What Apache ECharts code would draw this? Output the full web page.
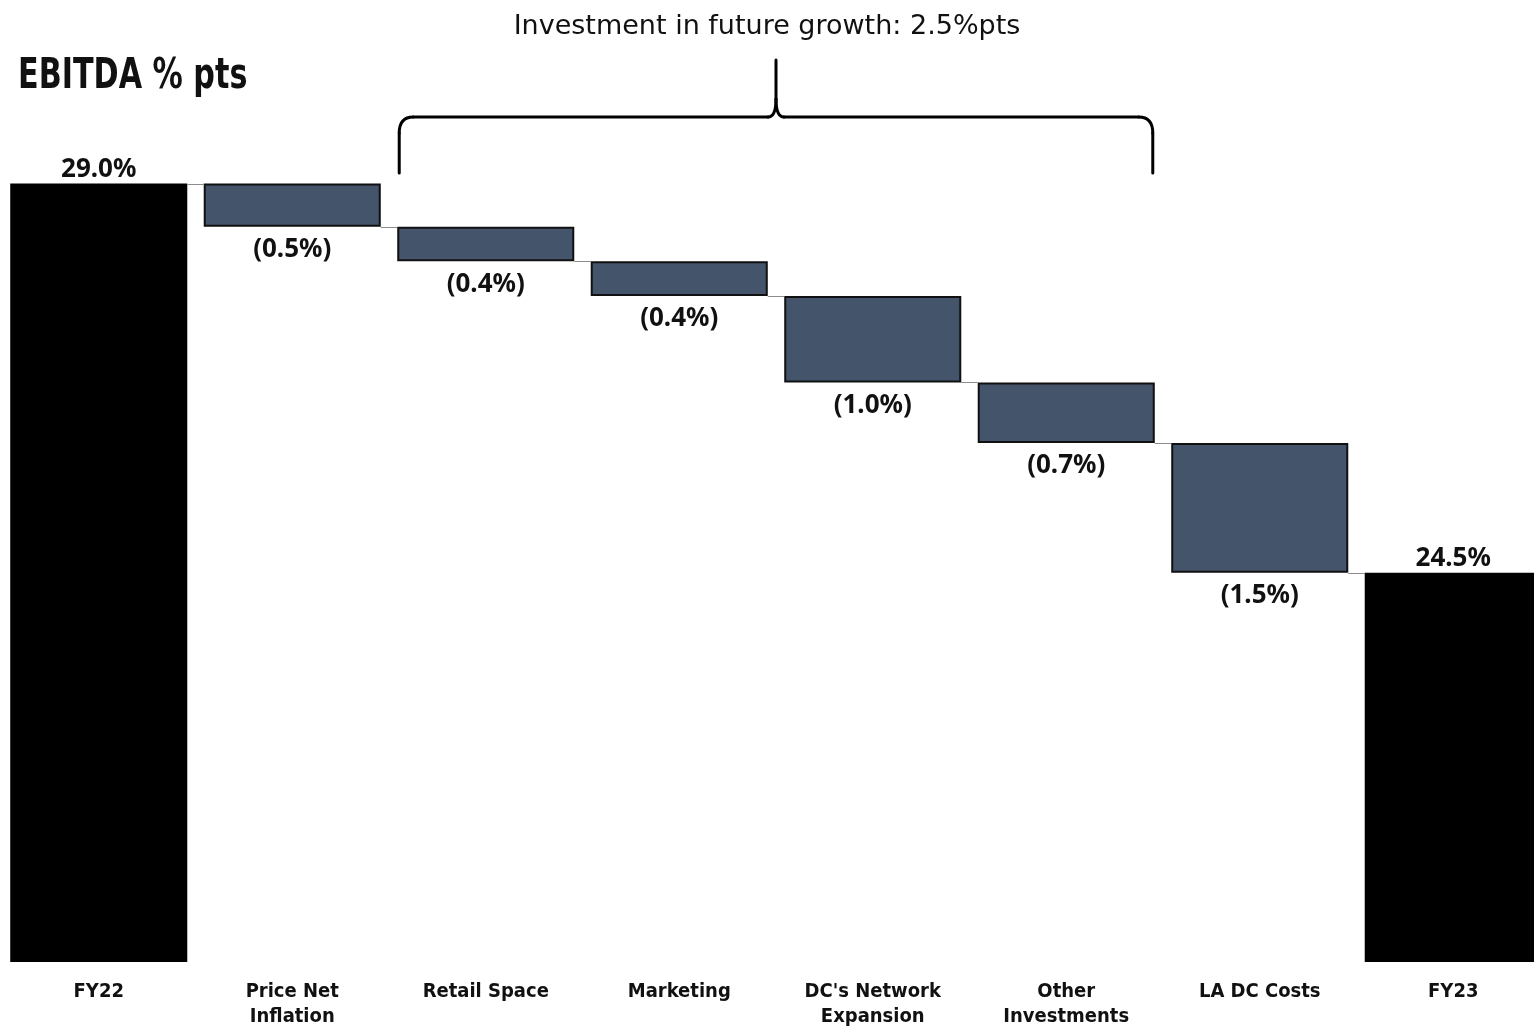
<!DOCTYPE html>
<html>
<head>
<meta charset="utf-8">
<title>EBITDA % pts bridge FY22 to FY23</title>
<script src="https://cdn.jsdelivr.net/npm/echarts@6/dist/echarts.min.js"></script>
<style>
  html, body { margin: 0; padding: 0; background: #ffffff; }
  #chart { width: 1534px; height: 1026px; }
</style>
</head>
<body>
<div id="chart"></div>
<script>
// Bridge categories (first and last are totals)
const categories = ['FY22', 'Price Net\nInflation', 'Retail Space', 'Marketing',
  "DC's Network\nExpansion", 'Other\nInvestments', 'LA DC Costs', 'FY23'];
// Opening and closing EBITDA margin (%)
const openingMargin = 29.0;
const closingMargin = 24.5;
// Movements between the two years (% pts)
const movements = [-0.5, -0.4, -0.4, -1.0, -0.7, -1.5];
// Bracketed investment items (indices into categories) and their caption
const bracketFrom = 2;
const bracketTo = 5;
const bracketCaption = 'Investment in future growth: 2.5%pts';
const chartTitle = 'EBITDA % pts';

const barColor = '#44546a';
const barWidthShare = 0.915;
const condensedFont = '"Liberation Sans Narrow", "DejaVu Sans Condensed", sans-serif';

// Build invisible bases, visible movement bars and totals
const baseData = [];
const moveData = [];
const totalData = [];
const levels = [openingMargin];
let running = openingMargin;
categories.forEach((c, i) => {
  if (i === 0) {
    baseData.push('-'); moveData.push('-'); totalData.push(openingMargin);
  } else if (i === categories.length - 1) {
    baseData.push('-'); moveData.push('-'); totalData.push(closingMargin);
  } else {
    const d = movements[i - 1];
    const next = +(running + d).toFixed(4);
    baseData.push(Math.min(running, next));
    moveData.push(Math.abs(d));
    totalData.push('-');
    running = next;
    levels.push(running);
  }
});
// Connector lines: from bar i to bar i+1 at the running level
const connectorData = levels.map((v, i) => [i, v]);

const chart = echarts.init(document.getElementById('chart'), null, { renderer: 'canvas' });

const labelFont = {
  fontFamily: '"Noto Sans", "Open Sans", sans-serif',
  fontWeight: 'bold',
  fontSize: 26,
  color: '#111111'
};

chart.setOption({
  backgroundColor: '#ffffff',
  animation: false,
  grid: { left: 2, width: 1548, top: 97, height: 865, outerBoundsMode: 'none', containLabel: false },
  xAxis: {
    type: 'category',
    data: categories,
    axisLine: { show: false },
    axisTick: { show: false },
    axisLabel: {
      interval: 0,
      margin: 17,
      fontFamily: condensedFont,
      fontWeight: 'bold',
      fontSize: 20,
      lineHeight: 25,
      color: '#111111'
    }
  },
  yAxis: {
    type: 'value',
    min: 20,
    max: 30,
    show: false,
    splitLine: { show: false }
  },
  series: [
    {
      name: 'base',
      type: 'bar',
      stack: 'bridge',
      barWidth: (barWidthShare * 100) + '%',
      barGap: '-100%',
      itemStyle: { color: 'rgba(0,0,0,0)' },
      silent: true,
      data: baseData
    },
    {
      name: 'movement',
      type: 'bar',
      stack: 'bridge',
      barWidth: (barWidthShare * 100) + '%',
      barGap: '-100%',
      itemStyle: { color: barColor, borderColor: '#111111', borderWidth: 2 },
      label: {
        show: true,
        position: 'bottom',
        distance: 10,
        ...labelFont,
        formatter: p => '(' + Math.abs(movements[p.dataIndex - 1]).toFixed(1) + '%)'
      },
      data: moveData
    },
    {
      name: 'total',
      type: 'bar',
      barWidth: (barWidthShare * 100) + '%',
      barGap: '-100%',
      itemStyle: { color: '#000000' },
      label: {
        show: true,
        position: 'top',
        distance: 1,
        ...labelFont,
        formatter: p => p.value.toFixed(1) + '%'
      },
      data: totalData
    },
    {
      name: 'connector',
      type: 'custom',
      silent: true,
      z: 5,
      renderItem: (params, api) => {
        const i = api.value(0);
        const v = api.value(1);
        const p0 = api.coord([i, v]);
        const p1 = api.coord([i + 1, v]);
        const half = api.size([1, 0])[0] * barWidthShare / 2;
        const y = Math.round(p0[1]) + 0.5;
        return {
          type: 'line',
          shape: { x1: p0[0] + half, y1: y, x2: p1[0] - half, y2: y },
          style: { stroke: '#8c8c8c', lineWidth: 1 }
        };
      },
      data: connectorData
    }
  ]
});

// Curly brace above the investment items, anchored to the bar edges
function drawBracket() {
  const x0 = chart.convertToPixel({ xAxisIndex: 0 }, 0);
  const band = chart.convertToPixel({ xAxisIndex: 0 }, 1) - x0;
  const half = band * barWidthShare / 2;
  const L = chart.convertToPixel({ xAxisIndex: 0 }, bracketFrom) - half + 2;
  const R = chart.convertToPixel({ xAxisIndex: 0 }, bracketTo) + half - 2;
  const M = (L + R) / 2;
  const yBot = 173, yBar = 117, yTop = 60;
  const stroke = { stroke: '#000000', lineWidth: 3, fill: null, lineCap: 'round' };
  const seg = (x1, y1, x2, y2) => ({ type: 'line', shape: { x1, y1, x2, y2 }, style: stroke });
  const curve = (x1, y1, cx, cy, x2, y2) => ({
    type: 'bezierCurve', shape: { x1, y1, x2, y2, cpx1: cx, cpy1: cy }, style: stroke
  });
  chart.setOption({
    graphic: [
      seg(L, yBot, L, yBar + 16),
      curve(L, yBar + 16, L, yBar, L + 14, yBar),
      seg(L + 14, yBar, M - 8, yBar),
      curve(M - 8, yBar, M, yBar, M, yBar - 18),
      seg(M, yBar - 18, M, yTop),
      curve(M, yBar - 18, M, yBar, M + 8, yBar),
      seg(M + 8, yBar, R - 14, yBar),
      curve(R - 14, yBar, R, yBar, R, yBar + 16),
      seg(R, yBar + 16, R, yBot),
      {
        type: 'text',
        x: M - 9,
        y: 27,
        style: {
          text: bracketCaption,
          fill: '#111111',
          fontFamily: '"DejaVu Sans", "Noto Sans", sans-serif',
          fontSize: 27,
          align: 'center',
          verticalAlign: 'middle'
        }
      },
      {
        type: 'text',
        x: 18,
        y: 77,
        scaleX: 0.8,
        style: {
          text: chartTitle,
          fill: '#111111',
          fontFamily: condensedFont,
          fontWeight: 'bold',
          fontSize: 42,
          align: 'left',
          verticalAlign: 'middle'
        }
      }
    ]
  });
}
drawBracket();
</script>
</body>
</html>
